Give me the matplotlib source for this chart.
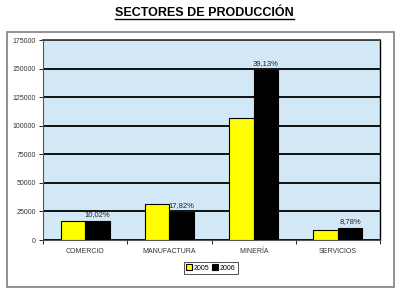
import matplotlib
matplotlib.use('Agg')
import matplotlib.pyplot as plt
import numpy as np
from matplotlib.patches import Rectangle
from matplotlib.lines import Line2D

# data
sectores = ['COMERCIO', 'MANUFACTURA', 'MINERÍA', 'SERVICIOS']
v2005 = [16500, 31500, 106500, 9000]
v2006 = [17000, 24500, 149000, 10500]
etiquetas = ['10,02%', '17,82%', '39,13%', '8,78%']
yticks = [0, 25000, 50000, 75000, 100000, 125000, 150000, 175000]

plt.rcParams['font.family'] = ['Liberation Sans', 'DejaVu Sans']

fig = plt.figure(figsize=(4, 2.95), dpi=100)
fig.patch.set_facecolor('white')

# outer chart frame
fig.patches.append(Rectangle((0.0175, 0.027), 0.9675, 0.864, transform=fig.transFigure,
                             fill=False, edgecolor='#7f7f7f', linewidth=1.2))

ax = fig.add_axes([0.1075, 0.1864, 0.8425, 0.678])
ax.set_facecolor('#d3e8f6')

x = np.arange(len(sectores))
w = 0.29
ax.bar(x - w / 2, v2005, w, color='#ffff00', edgecolor='black', linewidth=0.8, label='2005', zorder=3)
b2 = ax.bar(x + w / 2, v2006, w, color='black', edgecolor='black', linewidth=0.8, label='2006', zorder=3)

for rect, txt in zip(b2, etiquetas):
    ax.text(rect.get_x() + rect.get_width() / 2, rect.get_height() + 2500, txt,
            ha='center', va='bottom', fontsize=5.5, color='#222222', zorder=4)

ax.set_ylim(0, 175000)
ax.set_xlim(-0.5, len(sectores) - 0.5)
ax.set_yticks(yticks)
ax.set_yticklabels([str(v) for v in yticks], fontsize=5, color='#333333')
ax.yaxis.grid(True, color='black', linewidth=1.3, zorder=1)
ax.set_axisbelow(True)

ax.set_xticks(x)
ax.set_xticklabels(sectores, fontsize=5, color='#333333')
ax.tick_params(axis='x', which='major', length=0, pad=6)
ax.set_xticks(np.arange(-0.5, len(sectores)), minor=True)
ax.tick_params(axis='x', which='minor', length=3, direction='out')
ax.tick_params(axis='y', length=3, width=0.6, pad=2)

for s in ['left', 'bottom']:
    ax.spines[s].set_color('#555555')
    ax.spines[s].set_linewidth(0.8)
ax.spines['top'].set_color('#444444')
ax.spines['top'].set_linewidth(1.3)
ax.spines['right'].set_color('black')
ax.spines['right'].set_linewidth(1.0)

leg = fig.legend(loc='center', bbox_to_anchor=(0.527, 0.0915), ncol=2, fontsize=5,
                 frameon=True, fancybox=False, edgecolor='black', handlelength=0.8,
                 handleheight=0.8, handletextpad=0.3, columnspacing=0.4,
                 borderpad=0.3, borderaxespad=0)
leg.get_frame().set_linewidth(0.6)

# underlined title
t = fig.text(0.512, 0.955, 'SECTORES DE PRODUCCIÓN', ha='center', va='center',
             fontsize=9, fontweight='bold')
fig.canvas.draw()
bb = t.get_window_extent(fig.canvas.get_renderer()).transformed(fig.transFigure.inverted())
fig.add_artist(Line2D([bb.x0, bb.x1], [bb.y0 + 0.002, bb.y0 + 0.002], transform=fig.transFigure,
                      color='black', linewidth=1))

fig.savefig('out.png', dpi=100)
